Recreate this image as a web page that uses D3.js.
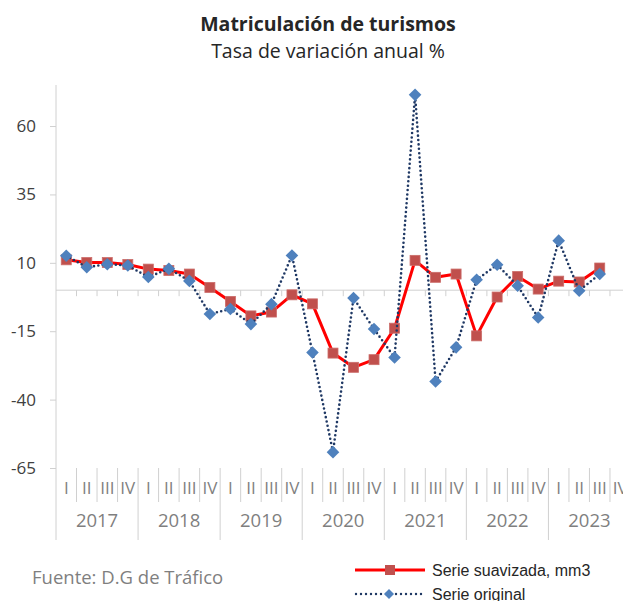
<!DOCTYPE html>
<html>
<head>
<meta charset="utf-8">
<script src="https://cdn.jsdelivr.net/npm/d3@7"></script>
<style>
  body { margin: 0; background: #fff; }
  svg { display: block; }
</style>
</head>
<body>
<div id="chart"></div>
<script>
// data
const years = ["2017", "2018", "2019", "2020", "2021", "2022", "2023"];
const quarters = ["I", "II", "III", "IV"];
const yTicks = [-65, -40, -15, 10, 35, 60];
const original = [12.6, 8.4, 9.5, 9.0, 4.8, 7.8, 3.4, -8.7, -6.9, -12.4, -5.1, 12.7, -22.8, -59.2,
                  -2.9, -14.2, -24.6, 71.4, -33.4, -20.9, 3.8, 9.3, 1.6, -10.0, 18.1, -0.2, 5.9];
const smoothed = [11.1, 10.1, 10.1, 9.4, 7.7, 7.2, 5.9, 1.0, -4.1, -9.4, -8.0, -1.7, -5.0, -23.0,
                  -28.2, -25.4, -13.9, 10.9, 4.7, 5.9, -16.7, -2.5, 5.0, 0.4, 3.3, 3.0, 8.1];

const width = 623, height = 601;
const axisColor = "#d0d0d0";
const calibri = "'Open Sans', sans-serif";

const svg = d3.select("#chart").append("svg")
    .attr("width", width)
    .attr("height", height);

// one band per quarter
const keys = years.flatMap(yr => quarters.map(q => yr + "-" + q));

const x = d3.scaleBand()
    .domain(keys)
    .range([56, 630.5]);

const y = d3.scaleLinear()
    .domain([-65, 75])
    .range([468, 85]);

const cx = (d, i) => x(keys[i]) + x.bandwidth() / 2;

// titles
svg.append("text")
    .attr("x", 328).attr("y", 31)
    .attr("text-anchor", "middle")
    .attr("font-family", calibri)
    .attr("font-weight", "bold")
    .attr("font-size", "19.5px")
    .attr("fill", "#262626")
    .text("Matriculación de turismos");

svg.append("text")
    .attr("x", 328).attr("y", 58)
    .attr("text-anchor", "middle")
    .attr("font-family", calibri)
    .attr("font-size", "19.5px")
    .attr("fill", "#262626")
    .text("Tasa de variación anual %");

// value axis
const yAxis = svg.append("g")
    .attr("transform", "translate(56,0)")
    .call(d3.axisLeft(y).tickValues(yTicks).tickSize(6).tickPadding(14).tickFormat(d => String(d)));
yAxis.select(".domain").remove();
yAxis.selectAll(".tick line").attr("stroke", axisColor);
yAxis.selectAll(".tick text")
    .attr("font-family", calibri)
    .attr("font-size", "17px")
    .attr("fill", "#404040");

svg.append("line")
    .attr("x1", 56).attr("x2", 56)
    .attr("y1", 85).attr("y2", 540)
    .attr("stroke", axisColor);

// category axis crossing at zero
svg.append("line")
    .attr("x1", 56).attr("x2", 630.5)
    .attr("y1", y(0)).attr("y2", y(0))
    .attr("stroke", axisColor);

svg.append("g")
    .selectAll("line")
    .data(keys.slice(1))
    .join("line")
    .attr("x1", d => x(d)).attr("x2", d => x(d))
    .attr("y1", y(0)).attr("y2", y(0) + 6)
    .attr("stroke", axisColor);

// multi-level labels below the plot
svg.append("g")
    .selectAll("line")
    .data(keys.slice(1))
    .join("line")
    .attr("x1", d => x(d)).attr("x2", d => x(d))
    .attr("y1", 468)
    .attr("y2", d => d.endsWith("-I") ? 540 : 502)
    .attr("stroke", axisColor);

svg.append("g")
    .selectAll("text")
    .data(keys)
    .join("text")
    .attr("x", d => x(d) + x.bandwidth() / 2)
    .attr("y", 494)
    .attr("text-anchor", "middle")
    .attr("font-family", calibri)
    .attr("font-size", "17px")
    .attr("fill", "#7f7f7f")
    .text(d => d.split("-")[1]);

svg.append("g")
    .selectAll("text")
    .data(years)
    .join("text")
    .attr("x", d => x(d + "-I") + 2 * x.bandwidth())
    .attr("y", 527)
    .attr("text-anchor", "middle")
    .attr("font-family", calibri)
    .attr("font-size", "18.5px")
    .attr("fill", "#7f7f7f")
    .text(d => d);

// smoothed series
const line = d3.line().x(cx).y(d => y(d));

svg.append("path")
    .datum(smoothed)
    .attr("d", line)
    .attr("fill", "none")
    .attr("stroke", "#ff0000")
    .attr("stroke-width", 3)
    .attr("stroke-linejoin", "round");

svg.append("g")
    .selectAll("rect")
    .data(smoothed)
    .join("rect")
    .attr("x", (d, i) => cx(d, i) - 5)
    .attr("y", d => y(d) - 5)
    .attr("width", 10).attr("height", 10)
    .attr("fill", "#c0504d")
    .attr("stroke", "#cb6d6a")
    .attr("stroke-width", 0.8);

// original series
svg.append("path")
    .datum(original)
    .attr("d", line)
    .attr("fill", "none")
    .attr("stroke", "#1f3864")
    .attr("stroke-width", 2.6)
    .attr("stroke-linecap", "round")
    .attr("stroke-dasharray", "0 4.4");

const diamond = s => `M0,${-s}L${s},0L0,${s}L${-s},0Z`;

svg.append("g")
    .selectAll("path")
    .data(original)
    .join("path")
    .attr("d", diamond(6.3))
    .attr("transform", (d, i) => `translate(${cx(d, i)},${y(d)})`)
    .attr("fill", "#4f81bd");

// source note
svg.append("text")
    .attr("x", 32).attr("y", 584)
    .attr("font-family", calibri)
    .attr("font-size", "18.5px")
    .attr("fill", "#7f7f7f")
    .text("Fuente: D.G de Tráfico");

// legend
const legend = svg.append("g");

legend.append("line")
    .attr("x1", 355).attr("x2", 425)
    .attr("y1", 570).attr("y2", 570)
    .attr("stroke", "#ff0000")
    .attr("stroke-width", 3);
legend.append("rect")
    .attr("x", 385).attr("y", 565)
    .attr("width", 10).attr("height", 10)
    .attr("fill", "#c0504d");
legend.append("text")
    .attr("x", 432).attr("y", 576)
    .attr("font-family", "'Liberation Sans', Arial, sans-serif")
    .attr("font-size", "16px")
    .attr("fill", "#262626")
    .text("Serie suavizada, mm3");

legend.append("line")
    .attr("x1", 356).attr("x2", 425)
    .attr("y1", 594).attr("y2", 594)
    .attr("stroke", "#1f3864")
    .attr("stroke-width", 2.4)
    .attr("stroke-linecap", "round")
    .attr("stroke-dasharray", "0 5");
legend.append("path")
    .attr("d", diamond(5))
    .attr("transform", "translate(389,594)")
    .attr("fill", "#4f81bd");
legend.append("text")
    .attr("x", 432).attr("y", 600)
    .attr("font-family", "'Liberation Sans', Arial, sans-serif")
    .attr("font-size", "16px")
    .attr("fill", "#262626")
    .text("Serie original");
</script>
</body>
</html>
